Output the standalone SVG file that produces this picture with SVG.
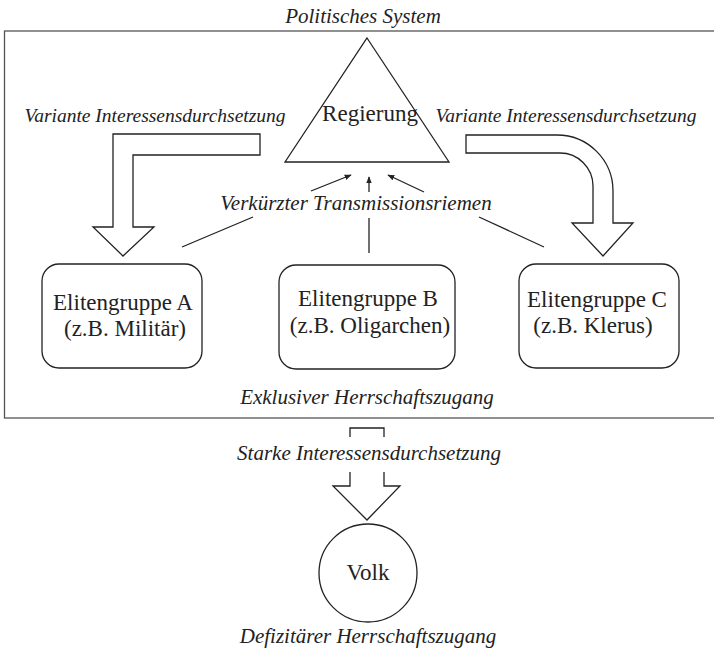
<svg xmlns="http://www.w3.org/2000/svg" width="714" height="658" viewBox="0 0 714 658">
<style>
.it{font-family:"Liberation Serif",serif;font-style:italic;font-size:21px;fill:#222;text-anchor:middle}
.rg{font-family:"Liberation Serif",serif;font-size:23px;fill:#222;text-anchor:middle}
.sh{fill:#fff;stroke:#222;stroke-width:1.3}
.ln{fill:none;stroke:#222;stroke-width:1.3}
</style>
<defs>
<marker id="ah" viewBox="0 0 10 10" refX="9" refY="5" markerWidth="7" markerHeight="7" orient="auto" markerUnits="userSpaceOnUse">
<path d="M0,1 L10,5 L0,9 Z" fill="#222"/>
</marker>
</defs>
<rect width="714" height="658" fill="#fff"/>
<g id="system">
<rect x="4.5" y="31" width="720" height="387" fill="none" stroke="#555" stroke-width="1.3"/>
<text class="it" x="363" y="23">Politisches System</text>
<text class="it" x="367" y="404">Exklusiver Herrschaftszugang</text>
</g>
<g id="regierung">
<path class="sh" d="M367,38 L449,162 L285,162 Z"/>
<text class="rg" x="370" y="121">Regierung</text>
</g>
<g id="elite-a">
<rect class="sh" x="42" y="264" width="160" height="104" rx="17"/>
<text class="rg" x="123" y="310">Elitengruppe A</text>
<text class="rg" x="125" y="336">(z.B. Militär)</text>
</g>
<g id="elite-b">
<rect class="sh" x="279" y="265" width="176" height="104" rx="17"/>
<text class="rg" x="368" y="306">Elitengruppe B</text>
<text class="rg" x="370" y="333">(z.B. Oligarchen)</text>
</g>
<g id="elite-c">
<rect class="sh" x="519" y="264" width="160" height="104" rx="17"/>
<text class="rg" x="597" y="307">Elitengruppe C</text>
<text class="rg" x="593" y="333">(z.B. Klerus)</text>
</g>
<g id="volk">
<circle class="sh" cx="368" cy="573" r="49"/>
<text class="rg" x="368" y="580">Volk</text>
<text class="it" x="368" y="643">Defizitärer Herrschaftszugang</text>
</g>
<g id="connectors">
<path class="sh" d="M113,227 V134 H260 V155 H133 V227 H154 L123,256 L93,227 Z"/>
<text class="it" x="155" y="122" style="font-size:19.5px">Variante Interessensdurchsetzung</text>
<path class="sh" d="M466,135 H557 A56,56 0 0 1 613,191 V223 H633 L603,256 L572,223 H593 V186 A33,33 0 0 0 560,153 H466 Z"/>
<text class="it" x="566" y="122" style="font-size:19.5px">Variante Interessensdurchsetzung</text>
<line class="ln" x1="182" y1="247" x2="253" y2="217"/>
<line class="ln" x1="369" y1="253" x2="369" y2="218"/>
<line class="ln" x1="544" y1="247" x2="479" y2="217"/>
<text class="it" x="356" y="210">Verkürzter Transmissionsriemen</text>
<line class="ln" x1="311" y1="191" x2="351" y2="175" marker-end="url(#ah)"/>
<line class="ln" x1="369" y1="192" x2="369" y2="177" marker-end="url(#ah)"/>
<line class="ln" x1="424" y1="192" x2="388" y2="175" marker-end="url(#ah)"/>
<path class="ln" d="M350,437 V428 H384 V437"/>
<path class="sh" d="M350,472 V486 H333 L367,520 L400,486 H384 V472"/>
<text class="it" x="369" y="460">Starke Interessensdurchsetzung</text>
</g>
</svg>
